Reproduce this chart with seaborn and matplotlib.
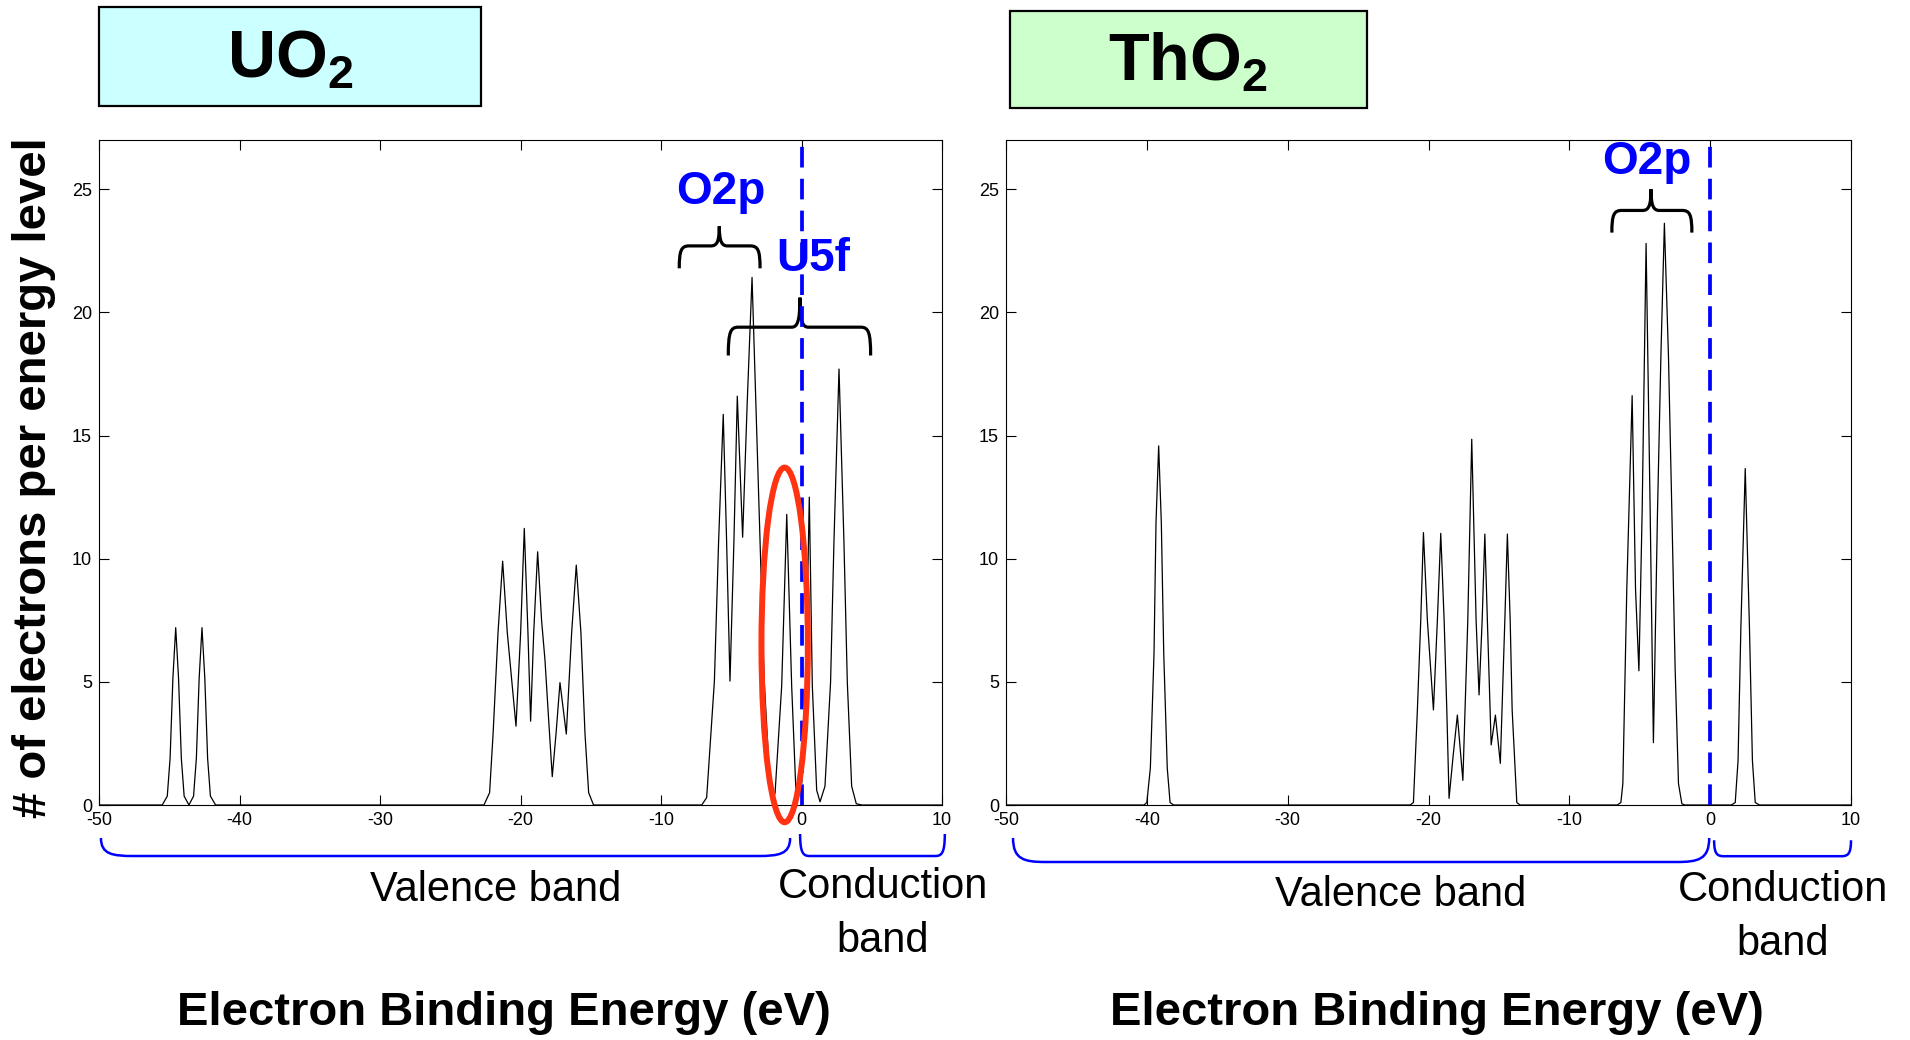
import numpy as np
import pandas as pd
import matplotlib
matplotlib.use("Agg")
import matplotlib.pyplot as plt
import seaborn as sns
from matplotlib.path import Path
from matplotlib.patches import PathPatch, Ellipse, Rectangle
from matplotlib.transforms import blended_transform_factory

# ---- density of states (energy in eV, electrons per level) ----
uo2_energy = [-50, -45.5, -45.14, -44.94, -44.74, -44.54, -44.34, -44.14, -43.94, -43.6,
              -43.27, -43.07, -42.87, -42.67, -42.47, -42.27, -42.07, -41.7,
              -22.6, -22.2, -21.95, -21.6, -21.27, -20.94, -20.32, -19.99, -19.73, -19.47,
              -19.28, -19.06, -18.78, -18.5, -18.26, -18.0, -17.74, -17.47, -17.19, -16.74,
              -16.36, -16.03, -15.7, -15.41, -15.15, -14.8,
              -7.1, -6.75, -6.2, -5.9, -5.57, -5.33, -5.09, -4.81, -4.57, -4.19, -3.86, -3.52,
              -2.95, -2.65, -2.24, -2.05, -1.88, -1.41, -1.05, -0.7, -0.4, -0.2, 0.02, 0.3,
              0.555, 0.77, 1.08, 1.32, 1.67, 2.07, 2.31, 2.67, 3.02, 3.26, 3.57, 3.9, 4.3, 10]
uo2_dos = [0, 0, 0.36, 1.9, 5.16, 7.2, 5.16, 1.9, 0.36, 0,
           0.36, 1.9, 5.16, 7.2, 5.16, 1.9, 0.36, 0,
           0, 0.5, 2.9, 7.0, 9.9, 7.0, 3.2, 7.0, 11.23, 7.0,
           3.4, 7.0, 10.28, 7.5, 5.9, 3.5, 1.15, 2.9, 4.97, 2.88,
           7.0, 9.74, 7.0, 2.9, 0.5, 0,
           0, 0.3, 5.03, 10.7, 15.86, 10.7, 5.03, 10.7, 16.6, 10.87, 16.4, 21.42,
           10.7, 5.03, 0.76, 0.1, 0.5, 4.84, 11.8, 4.84, 0.6, 0.4, 0.9, 4.84,
           12.5, 4.84, 0.6, 0.13, 0.76, 5.0, 10.7, 17.7, 10.7, 5.0, 0.76, 0.05, 0, 0]

tho2_energy = [-50, -40.2, -40.0, -39.75, -39.49, -39.35, -39.16, -38.97, -38.8, -38.55, -38.35, -38.1,
               -21.3, -21.07, -20.79, -20.55, -20.36, -20.08, -19.65, -19.37, -19.13, -18.89,
               -18.7, -18.54, -18.25, -17.95, -17.56, -17.21, -16.93, -16.62, -16.41, -16.19,
               -16.0, -15.82, -15.55, -15.25, -14.9, -14.58, -14.4, -14.2, -14.06, -13.73, -13.5,
               -6.6, -6.34, -6.2, -5.92, -5.54, -5.3, -5.06, -4.83, -4.55, -4.26, -4.03, -3.74,
               -3.5, -3.25, -2.96, -2.72, -2.49, -2.25, -2.01, -1.8,
               1.5, 1.78, 1.98, 2.18, 2.49, 2.79, 3.0, 3.2, 3.5, 10]
tho2_dos = [0, 0, 0.1, 1.5, 6.16, 11.44, 14.58, 11.44, 6.16, 1.5, 0.1, 0,
            0, 0.1, 3.86, 7.5, 11.06, 7.5, 3.86, 7.5, 11.03, 7.5,
            3.86, 0.27, 2.0, 3.65, 1.0, 7.5, 14.85, 7.5, 4.47, 7.5,
            11.0, 7.5, 2.44, 3.65, 1.69, 7.5, 11.0, 7.5, 3.86, 0.1, 0,
            0, 0.1, 0.87, 8.77, 16.62, 8.77, 5.45, 11.9, 22.8, 11.9, 2.53, 11.9,
            18.2, 23.62, 18.2, 11.9, 5.6, 0.87, 0.05, 0,
            0, 0.1, 1.8, 7.19, 13.66, 7.19, 1.8, 0.1, 0, 0]

x_ticks = [-50, -40, -30, -20, -10, 0, 10]
y_ticks = [0, 5, 10, 15, 20, 25]
titles = ["UO$_\\mathbf{2}$", "ThO$_\\mathbf{2}$"]

sns.set_theme(style="white")
plt.rcParams["font.family"] = ["Liberation Sans", "DejaVu Sans"]
plt.rcParams["mathtext.fontset"] = "custom"
plt.rcParams["mathtext.bf"] = "Liberation Sans:bold"
plt.rcParams["mathtext.rm"] = "Liberation Sans:bold"
plt.rcParams["axes.unicode_minus"] = False
plt.rcParams["text.color"] = "black"
plt.rcParams["axes.labelcolor"] = "black"

W, H = 1910, 1040
fig = plt.figure(figsize=(W / 100, H / 100), dpi=100)


def fx(px):
    return px / W


def fy(py):
    return 1 - py / H


def curly_brace(ax, x0, x1, xm, y_end, y_bar, y_tip, r=0.7, r2=0.6):
    verts = [(x0, y_end),
             (x0, y_end + 0.8 * (y_bar - y_end)), (x0 + 0.2 * r, y_bar), (x0 + r, y_bar),
             (xm - r2, y_bar),
             (xm - 0.3 * r2, y_bar), (xm, y_bar + 0.2 * (y_tip - y_bar)), (xm, y_tip),
             (xm, y_bar + 0.2 * (y_tip - y_bar)), (xm + 0.3 * r2, y_bar), (xm + r2, y_bar),
             (x1 - r, y_bar),
             (x1 - 0.2 * r, y_bar), (x1, y_end + 0.8 * (y_bar - y_end)), (x1, y_end)]
    codes = [Path.MOVETO] + [Path.CURVE4] * 3 + [Path.LINETO] + [Path.CURVE4] * 6 + \
            [Path.LINETO] + [Path.CURVE4] * 3
    ax.add_patch(PathPatch(Path(verts, codes), fill=False, lw=2.3, color="black",
                           clip_on=False, capstyle="butt"))


def band_bracket(ax, x0, x1, y_top, y_bot, r):
    tr = blended_transform_factory(ax.transData, ax.transAxes)
    verts = [(x0, y_top),
             (x0, y_bot + 0.1 * (y_top - y_bot)), (x0 + 0.35 * r, y_bot), (x0 + r, y_bot),
             (x1 - r, y_bot),
             (x1 - 0.35 * r, y_bot), (x1, y_bot + 0.1 * (y_top - y_bot)), (x1, y_top)]
    codes = [Path.MOVETO] + [Path.CURVE4] * 3 + [Path.LINETO] + [Path.CURVE4] * 3
    ax.add_patch(PathPatch(Path(verts, codes), fill=False, lw=1.8, color="#0000ff",
                           transform=tr, clip_on=False))


axes_px = [(99, 942), (1006, 1851)]
datasets = [(uo2_energy, uo2_dos), (tho2_energy, tho2_dos)]
axs = []
for (left, right), (xe, yd) in zip(axes_px, datasets):
    ax = fig.add_axes([fx(left), fy(805), fx(right - left), fy(140) - fy(805)])
    df = pd.DataFrame({"energy": xe, "dos": yd})
    sns.lineplot(data=df, x="energy", y="dos", ax=ax, color="black", lw=0.9,
                 sort=False, estimator=None)
    ax.axvline(0, color="#0000ff", lw=2.7, ls=(0, (5.5, 3)), zorder=3)
    ax.set_xlim(-50, 10)
    ax.set_ylim(0, 27)
    ax.set_xticks(x_ticks)
    ax.set_yticks(y_ticks)
    ax.set_xlabel("")
    ax.set_ylabel("")
    ax.tick_params(direction="in", length=7, width=0.8, top=True, right=True,
                   bottom=True, left=True, labelsize=13, colors="black", pad=5)
    for s in ax.spines.values():
        s.set_color("black")
        s.set_linewidth(0.8)
    axs.append(ax)

ax1, ax2 = axs

# annotations on UO2
ax1.add_patch(Ellipse((-1.2, 6.5), 3.3, 14.4, fill=False, edgecolor="#ff3311",
                      lw=4.3, clip_on=False, zorder=4))
curly_brace(ax1, -8.7, -2.95, -5.85, 21.79, 22.7, 23.5)
curly_brace(ax1, -5.21, 4.92, -0.11, 18.25, 19.4, 20.6)
ax1.text(-5.73, 24.9, "O2p", color="#0000ff", fontsize=33, fontweight="bold",
         ha="center", va="center")
ax1.text(0.86, 22.15, "U5f", color="#0000ff", fontsize=33, fontweight="bold",
         ha="center", va="center")

# annotations on ThO2
curly_brace(ax2, -6.98, -1.3, -4.2, 23.24, 24.14, 25.0)
ax2.text(-4.5, 26.1, "O2p", color="#0000ff", fontsize=33, fontweight="bold",
         ha="center", va="center")

# band brackets below the axes
band_bracket(ax1, -49.86, -0.81, -0.0496, -0.0767, 2.3)
band_bracket(ax1, -0.1, 10.2, -0.0436, -0.0767, 0.7)
band_bracket(ax2, -49.5, -0.07, -0.0496, -0.0857, 2.3)
band_bracket(ax2, 0.28, 10.0, -0.053, -0.077, 0.7)

fig.text(fx(496), fy(890), "Valence band", fontsize=30, ha="center", va="center")
fig.text(fx(883), fy(914), "Conduction\nband", fontsize=30, ha="center", va="center",
         linespacing=1.42)
fig.text(fx(1401), fy(895), "Valence band", fontsize=30, ha="center", va="center")
fig.text(fx(1783), fy(917), "Conduction\nband", fontsize=30, ha="center", va="center",
         linespacing=1.42)

fig.text(fx(504), fy(1013), "Electron Binding Energy (eV)", fontsize=34,
         fontweight="bold", ha="center", va="center")
fig.text(fx(1437), fy(1013), "Electron Binding Energy (eV)", fontsize=34,
         fontweight="bold", ha="center", va="center")
fig.text(fx(34), fy(478), "# of electrons per energy level", fontsize=34,
         fontweight="bold", ha="center", va="center", rotation=90)

# title boxes
boxes = [((99, 7, 481, 106), "#ccffff", (290, 61)),
         ((1010, 11, 1367, 108), "#ccffcc", (1188, 63))]
for (bx0, by0, bx1, by1), fc, (tx, ty) in boxes:
    fig.add_artist(Rectangle((fx(bx0), fy(by1)), fx(bx1 - bx0), fy(by0) - fy(by1),
                             transform=fig.transFigure, facecolor=fc,
                             edgecolor="black", lw=1.6))
for title, (_, _, (tx, ty)) in zip(titles, boxes):
    fig.text(fx(tx), fy(ty), title, fontsize=48, fontweight="bold", color="black",
             ha="center", va="center")

fig.savefig("out.png", dpi=100)
